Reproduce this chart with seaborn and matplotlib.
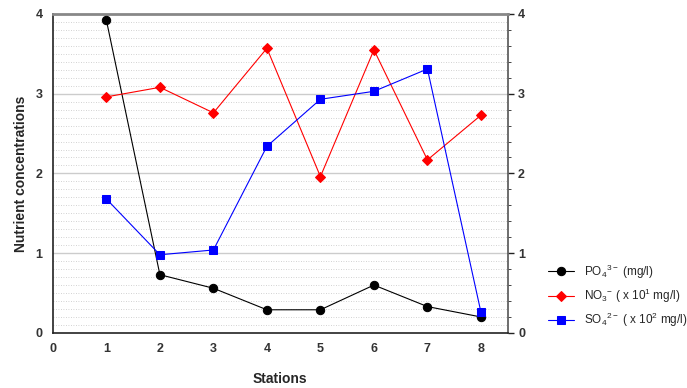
import numpy as np
import pandas as pd
import matplotlib
matplotlib.use("Agg")
import matplotlib.pyplot as plt
from matplotlib.ticker import MultipleLocator
import seaborn as sns

stations = [1, 2, 3, 4, 5, 6, 7, 8]
po4 = [3.92, 0.73, 0.56, 0.29, 0.29, 0.60, 0.33, 0.20]
no3 = [2.96, 3.08, 2.76, 3.57, 1.96, 3.55, 2.17, 2.73]
so4 = [1.68, 0.98, 1.04, 2.34, 2.93, 3.03, 3.31, 0.26]

labels = [
    r"PO$_4$$^{3-}$ (mg/l)",
    r"NO$_3$$^{-}$ ( x 10$^1$ mg/l)",
    r"SO$_4$$^{2-}$ ( x 10$^2$ mg/l)",
]

sns.set_style("white")
plt.rcParams["font.family"] = ["Liberation Sans", "DejaVu Sans"]
plt.rcParams["mathtext.fontset"] = "custom"
plt.rcParams["mathtext.rm"] = "Liberation Sans"

df = pd.DataFrame({
    "Station": stations * 3,
    "Value": po4 + no3 + so4,
    "Series": [labels[0]] * 8 + [labels[1]] * 8 + [labels[2]] * 8,
})

fig = plt.figure(figsize=(6.87, 3.88), dpi=100)
ax = fig.add_axes([0.077, 0.142, 0.662, 0.822])

# grid first so lines sit on top
for y in np.arange(0.1, 4.0, 0.1):
    if abs(y - round(y)) < 1e-6:
        ax.axhline(y, color="#cccccc", lw=1.0, zorder=0)
    else:
        ax.axhline(y, color="#c4c4c4", lw=0.6, ls=(0, (1, 2)), zorder=0)

palette = {labels[0]: "black", labels[1]: "red", labels[2]: "blue"}
markers = {labels[0]: "o", labels[1]: "D", labels[2]: "s"}
sizes = {labels[0]: 6, labels[1]: 5.5, labels[2]: 6}
for lab in labels:
    sub = df[df["Series"] == lab]
    sns.lineplot(data=sub, x="Station", y="Value", color=palette[lab],
                 marker=markers[lab], markersize=sizes[lab], lw=0.8,
                 markeredgecolor=palette[lab], label=lab, ax=ax, zorder=3)

ax.set_xlim(0, 8.5)
ax.set_ylim(0, 4)
ax.xaxis.set_major_locator(MultipleLocator(1))
ax.yaxis.set_major_locator(MultipleLocator(1))
ax.yaxis.set_minor_locator(MultipleLocator(0.2))
ax.set_xlabel("Stations", fontsize=10, fontweight="bold", labelpad=12)
ax.set_ylabel("Nutrient concentrations", fontsize=10, fontweight="bold", labelpad=5)

for s in ["left", "bottom"]:
    ax.spines[s].set_color("#222222")
    ax.spines[s].set_linewidth(1.2)
ax.spines["top"].set_color("#888888")
ax.spines["top"].set_linewidth(2)
ax.spines["right"].set_color("#555555")
ax.spines["right"].set_linewidth(1.2)

ax.tick_params(axis="both", which="major", labelsize=9, length=4, width=1,
               direction="out", colors="#222222")
ax.tick_params(axis="y", which="minor", length=2, direction="out")
ax.tick_params(axis="y", right=True, labelright=True, which="both")
for t in ax.get_xticklabels() + ax.get_yticklabels():
    t.set_fontweight("bold")
    t.set_color("#333333")

leg = ax.legend(loc="upper left", bbox_to_anchor=(1.079, 0.236), frameon=False,
                fontsize=8.5, handlelength=2.2, labelspacing=0.5, borderaxespad=0)

fig.savefig("out.png", dpi=100)
